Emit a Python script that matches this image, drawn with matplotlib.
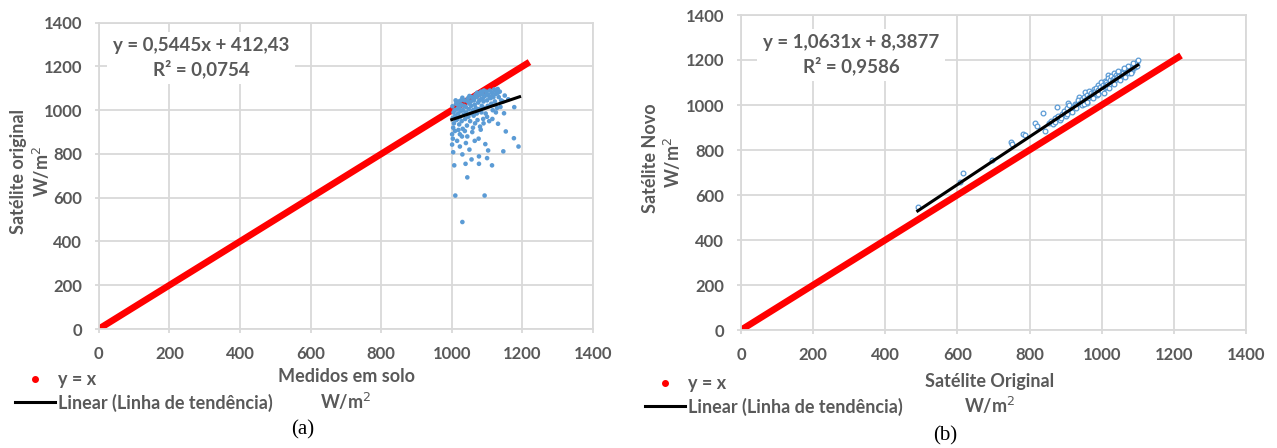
import matplotlib
matplotlib.use("Agg")
import matplotlib.pyplot as plt
from matplotlib.lines import Line2D

W, H = 1277, 448

# ---------------- data ----------------
identity_x = [0, 1220]
identity_y = [0, 1220]

# panel (a): measured on ground vs original satellite
a_x = [1002, 1005, 1003, 1008, 1010, 1012, 1006, 1004, 1009, 1001, 1013, 1015, 1018, 1016,
       1020, 1022, 1021, 1025, 1024, 1027, 1028, 1030, 1032, 1031, 1034, 1036, 1038, 1040,
       1041, 1043, 1045, 1047, 1048, 1050, 1052, 1053, 1055, 1057, 1058, 1060, 1062, 1063,
       1065, 1066, 1068, 1070, 1071, 1073, 1075, 1077, 1079, 1080, 1082, 1084, 1085, 1087,
       1089, 1090, 1092, 1094, 1096, 1098, 1100, 1102, 1104, 1106, 1108, 1110, 1112, 1114,
       1116, 1118, 1120, 1122, 1125, 1128, 1130, 1133, 1136, 1140, 1050, 1035, 1026, 1011,
       1017, 1019, 1023, 1029, 1037, 1044, 1046, 1054, 1061, 1067, 1072, 1078, 1083, 1088,
       1091, 1099, 1107, 1115, 1124, 1131, 1145,
       1150, 1160, 1177, 1148, 1131, 1153, 1176, 1189, 1082, 1076, 1090, 1060, 1100, 1115,
       1125, 1138,
       1004, 1030, 1007, 1039, 1056, 1077, 1077, 1100, 1114, 1103, 1146, 1044, 1010, 1093,
       1030, 1001, 1023, 1015, 1040, 1065, 1003, 1050, 1095]
a_y = [1018, 990, 965, 1000, 975, 1030, 940, 920, 905, 890, 955, 1005, 985, 960,
       1040, 1010, 935, 995, 970, 1025, 950, 1057, 1000, 915, 980, 1045, 960, 1015,
       990, 930, 1040, 970, 1005, 1030, 950, 985, 1020, 1060, 900, 1000, 975, 1045,
       1025, 940, 1010, 1060, 985, 955, 1035, 1005, 1070, 925, 1050, 990, 1020, 1075,
       960, 1040, 1010, 1065, 985, 1085, 1045, 1020, 1070, 950, 1090, 1055, 1030, 1080,
       1000, 1060, 1095, 1040, 1075, 1010, 1097, 1060, 1085, 1045, 1065, 1020, 1045, 1045,
       1025, 910, 890, 880, 905, 880, 1055, 1040, 1055, 1070, 1080, 1045, 1085, 1055,
       1090, 1075, 1060, 1065, 1090, 1080, 1040,
       1067, 1050, 1014, 986, 938, 903, 872, 834, 911, 870, 940, 920, 970, 960,
       990, 1015,
       808, 798, 748, 755, 775, 789, 755, 781, 748, 816, 812, 693, 610, 610,
       489, 843, 834, 860, 850, 860, 870, 820, 845]
a_trend_x = [1000, 1192]
a_slope, a_icpt = 0.5445, 412.43

# panel (b): original satellite vs new satellite
b_x = [492, 608, 615, 695, 748, 752, 783, 787, 815, 820, 838, 843, 855, 875, 875, 906, 912,
       938, 954, 991, 1017,
       860, 865, 870, 880, 885, 890, 895, 900, 905, 910, 915, 920, 925, 930, 935, 940, 945,
       950, 955, 960, 962, 965, 968, 970, 975, 978, 980, 985, 988, 990, 995, 998, 1000,
       1003, 1005, 1008, 1010, 1012, 1015, 1018, 1020, 1022, 1025, 1028, 1030, 1033, 1035,
       1038, 1040, 1043, 1045, 1048, 1050, 1053, 1055, 1058, 1060, 1063, 1065, 1068, 1070,
       1073, 1075, 1078, 1080, 1083, 1085, 1088, 1090, 1093, 1095, 1098, 1100, 1097, 1086,
       1072, 1062, 1046, 1032, 1016, 1002, 986, 972, 958, 944, 928, 918, 902, 888, 870,
       905, 950, 960, 975, 990, 1005, 1020, 1035, 1050, 1065, 1080]
b_y = [548, 659, 696, 756, 837, 825, 871, 867, 921, 907, 963, 886, 921, 992, 945, 1010, 985,
       1037, 1059, 1089, 1133,
       930, 915, 940, 950, 935, 960, 975, 965, 985, 1000, 975, 990, 1005, 1000, 1020, 1010,
       1025, 1035, 1020, 1045, 1030, 1060, 1040, 1055, 1050, 1070, 1060, 1075, 1058, 1068,
       1080, 1100, 1070, 1090, 1075, 1105, 1085, 1100, 1095, 1120, 1090, 1110, 1130, 1100,
       1115, 1140, 1120, 1110, 1135, 1125, 1145, 1130, 1120, 1145, 1135, 1150, 1140, 1130,
       1155, 1145, 1160, 1150, 1140, 1170, 1160, 1150, 1175, 1165, 1180, 1170, 1185, 1190,
       1200, 1175, 1185, 1172, 1165, 1150, 1105, 1080, 1060, 1045, 1035, 1010, 1000, 985,
       970, 950, 940, 925, 960, 1005, 1015, 1030, 1050, 1055, 1075, 1095, 1110, 1125, 1140]
b_trend_x = [490, 1100]
b_slope, b_icpt = 1.0631, 8.3877

ticks = [0, 200, 400, 600, 800, 1000, 1200, 1400]

# ---------------- style ----------------
FONT = "Lato"
TXT = "#595959"
GRID = "#d9d9d9"
BLUE = "#5b9bd5"

fig = plt.figure(figsize=(W / 100, H / 100), dpi=100)
fig.patch.set_facecolor("white")


def fx(px):
    return px / W


def fy(py):
    return 1 - py / H


def make_axes(x0, x1, y_bottom, y_top):
    ax = fig.add_axes([fx(x0), fy(y_bottom), fx(x1) - fx(x0), fy(y_top) - fy(y_bottom)])
    ax.set_xlim(0, 1400)
    ax.set_ylim(0, 1400)
    ax.set_xticks(ticks)
    ax.set_yticks(ticks)
    ax.grid(True, color=GRID, lw=1.3, zorder=0)
    ax.set_axisbelow(True)
    for s in ax.spines.values():
        s.set_color(GRID)
        s.set_linewidth(1.3)
    ax.tick_params(colors=GRID, length=3, width=1.3, labelcolor=TXT, labelsize=12, pad=9)
    for lab in ax.get_xticklabels() + ax.get_yticklabels():
        lab.set_fontfamily(FONT)
        lab.set_fontweight("bold")
    return ax


axA = make_axes(98.7, 593, 329, 22.7)
axB = make_axes(741, 1246, 330, 15)

# panel (a)
axA.plot(identity_x, identity_y, color="red", lw=4.8, solid_capstyle="butt", zorder=2)
axA.scatter(a_x, a_y, s=11, color=BLUE, edgecolors="none", zorder=3)
axA.plot(a_trend_x, [a_slope * v + a_icpt for v in a_trend_x], color="black", lw=2.2, zorder=4)

# panel (b)
axB.plot(identity_x, identity_y, color="red", lw=4.8, solid_capstyle="butt", zorder=2)
axB.plot(b_x, b_y, ls="none", marker="o", ms=3.4, mfc="white", mec=BLUE, mew=0.9, zorder=3)
axB.plot(b_trend_x, [b_slope * v + b_icpt for v in b_trend_x], color="black", lw=2.2, zorder=4)

# equations
box = dict(facecolor="white", edgecolor="none", pad=4)
fig.text(fx(201), fy(58), "y = 0,5445x + 412,43\nR² = 0,0754", ha="center", va="center",
         ma="center", fontsize=13.5, fontweight="bold", color=TXT, family=FONT,
         linespacing=1.35, bbox=box, zorder=10)
fig.text(fx(851), fy(55), "y = 1,0631x + 8,3877\nR² = 0,9586", ha="center", va="center",
         ma="center", fontsize=13.5, fontweight="bold", color=TXT, family=FONT,
         linespacing=1.35, bbox=box, zorder=10)

# axis labels
lab_kw = dict(fontsize=13, fontweight="bold", color=TXT, family=FONT, ha="center", va="center")
fig.text(fx(346), fy(377), "Medidos em solo", **lab_kw)
fig.text(fx(346), fy(401), "W/m$^2$", **lab_kw)
fig.text(fx(990), fy(381), "Satélite Original", **lab_kw)
fig.text(fx(990), fy(405), "W/m$^2$", **lab_kw)
fig.text(fx(19), fy(172), "Satélite original", rotation=90, **lab_kw)
fig.text(fx(41), fy(171), "W/m$^2$", rotation=90, **lab_kw)
fig.text(fx(650), fy(158), "Satélite Novo", rotation=90, **lab_kw)
fig.text(fx(672), fy(162), "W/m$^2$", rotation=90, **lab_kw)

# panel letters
fig.text(fx(303), fy(430), "(a)", fontsize=15, family="Liberation Serif", color="black",
         ha="center", va="center")
fig.text(fx(945), fy(436), "(b)", fontsize=15, family="Liberation Serif", color="black",
         ha="center", va="center")

# legends (outside plot area, bottom-left)
handles = [Line2D([], [], ls="none", marker="o", ms=4, color="red"),
           Line2D([], [], color="black", lw=2.2)]
labels = ["y = x", "Linear (Linha de tendência)"]
leg_kw = dict(frameon=False, handlelength=2.2, handletextpad=0.2, labelspacing=0.3,
              prop={"family": FONT, "weight": "bold", "size": 13}, labelcolor=TXT,
              borderaxespad=0, borderpad=0)
fig.legend(handles, labels, loc="upper left", bbox_to_anchor=(fx(15), fy(371)), **leg_kw)
fig.legend(handles, labels, loc="upper left", bbox_to_anchor=(fx(645), fy(375)), **leg_kw)

fig.savefig("out.png", dpi=100, facecolor="white")
